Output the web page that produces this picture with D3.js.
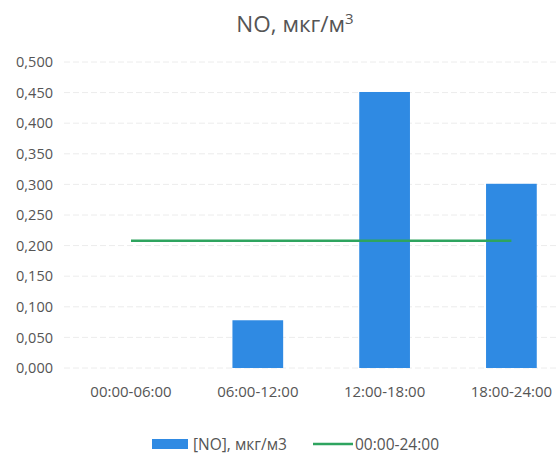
<!DOCTYPE html>
<html>
<head>
<meta charset="utf-8">
<script src="https://cdn.jsdelivr.net/npm/d3@7"></script>
<style>
  html, body { margin: 0; padding: 0; background: #fff; }
  svg { display: block; font-family: "Open Sans", sans-serif; }
</style>
</head>
<body>
<svg id="chart" width="557" height="454"></svg>
<script>
const categories = ["00:00-06:00", "06:00-12:00", "12:00-18:00", "18:00-24:00"];
const barValues = [0.0, 0.078, 0.451, 0.301];
const lineValues = [0.208, 0.208, 0.208, 0.208];
const yTicks = [0, 0.05, 0.1, 0.15, 0.2, 0.25, 0.3, 0.35, 0.4, 0.45, 0.5];
const barName = "[NO], мкг/м3";
const lineName = "00:00-24:00";

const textColor = "#555555";
const barColor = "#2f8ae3";
const lineColor = "#2ea45f";

const svg = d3.select("#chart");

const x = d3.scaleBand().domain(categories).range([67.6, 574.8]).paddingInner(0.6).paddingOuter(0.3);
const y = d3.scaleLinear().domain([0, 0.5]).range([368, 62]);
const fmt = v => d3.format(".3f")(v).replace(".", ",");

// gridlines
svg.append("g").selectAll("line").data(yTicks).join("line")
  .attr("x1", 64).attr("x2", 557)
  .attr("y1", d => y(d)).attr("y2", d => y(d))
  .attr("stroke", "#ececec").attr("stroke-width", 1)
  .attr("stroke-dasharray", "6,3");

// y axis labels
const yAxis = d3.axisLeft(y).tickValues(yTicks).tickFormat(fmt).tickSize(0).tickPadding(0);
const gy = svg.append("g").attr("transform", "translate(53,0)").call(yAxis);
gy.select(".domain").remove();
gy.selectAll("text").attr("fill", textColor).style("font-size", "14.5px").style("font-family", "Open Sans");

// x axis labels
const xAxis = d3.axisBottom(x).tickSize(0).tickPadding(0);
const gx = svg.append("g").attr("transform", "translate(0,386)").call(xAxis);
gx.select(".domain").remove();
gx.selectAll("text").attr("fill", textColor).style("font-size", "15px").style("font-family", "Open Sans");

// bars
svg.append("g").selectAll("rect").data(barValues).join("rect")
  .attr("x", (d, i) => x(categories[i]))
  .attr("width", x.bandwidth())
  .attr("y", d => y(d))
  .attr("height", d => y(0) - y(d))
  .attr("fill", barColor);

// line
const line = d3.line()
  .x((d, i) => x(categories[i]) + x.bandwidth() / 2)
  .y(d => y(d));
svg.append("path").datum(lineValues)
  .attr("d", line)
  .attr("fill", "none")
  .attr("stroke", lineColor)
  .attr("stroke-width", 2.6);

// title
const title = svg.append("text")
  .attr("x", 295).attr("y", 32)
  .attr("text-anchor", "middle")
  .attr("fill", textColor)
  .style("font-size", "22.5px");
title.append("tspan").text("NO, мкг/м");
title.append("tspan").attr("dy", -8).style("font-size", "15px").text("3");

// legend
const lg = svg.append("g");
lg.append("rect").attr("x", 152).attr("y", 439).attr("width", 36).attr("height", 10).attr("fill", barColor);
lg.append("text").attr("x", 193).attr("y", 449.5).attr("fill", textColor).style("font-size", "15.5px").text(barName);
lg.append("line").attr("x1", 313).attr("x2", 353).attr("y1", 444).attr("y2", 444)
  .attr("stroke", lineColor).attr("stroke-width", 2.6);
lg.append("text").attr("x", 355).attr("y", 449.5).attr("fill", textColor).style("font-size", "15.5px").text(lineName);
</script>
</body>
</html>
